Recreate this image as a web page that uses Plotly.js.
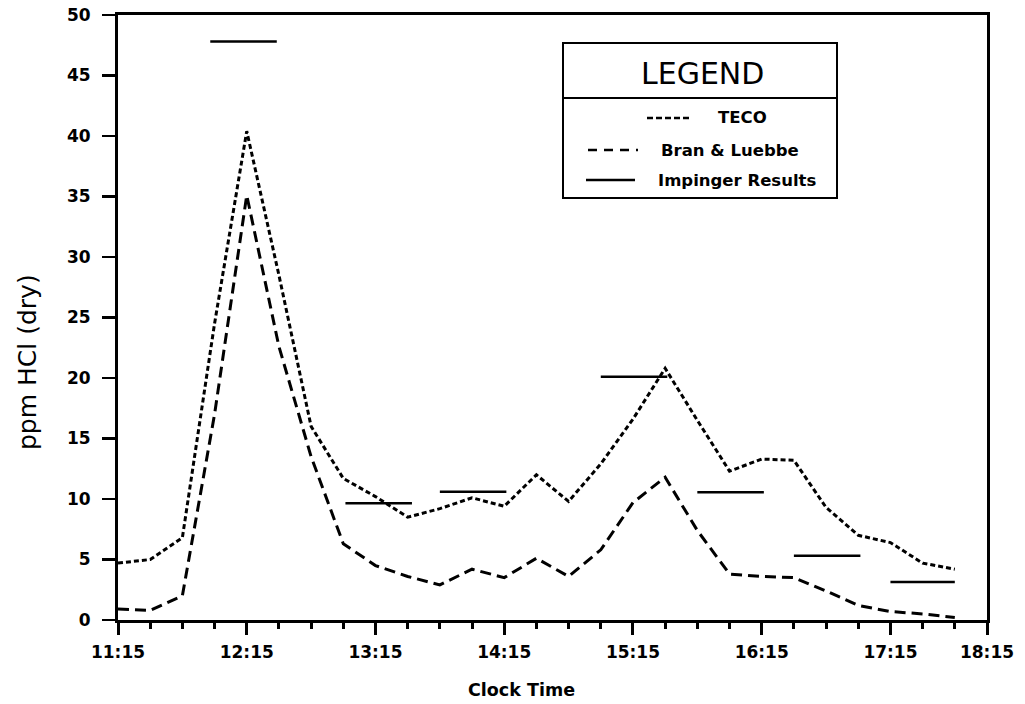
<!DOCTYPE html>
<html>
<head>
<meta charset="utf-8">
<script src="https://cdn.plot.ly/plotly-3.0.1.min.js"></script>
<style>html,body{margin:0;padding:0;background:#fff;}#chart{width:1025px;height:704px;}</style>
</head>
<body>
<div id="chart"></div>
<script>
// Minutes after 11:15, sampled every 15 minutes
const minutes = [0,15,30,45,60,75,90,105,120,135,150,165,180,195,210,225,240,255,270,285,300,315,330,345,360,375,390];
const tecoValues = [4.7,5.0,6.8,24.5,40.4,28.5,16.0,11.7,10.2,8.5,9.2,10.1,9.4,12.0,9.8,12.9,16.6,20.8,16.5,12.3,13.3,13.2,9.3,7.0,6.4,4.7,4.2];
const branValues = [0.9,0.8,2.0,17.0,35.1,22.6,13.5,6.3,4.5,3.6,2.9,4.2,3.5,5.1,3.6,5.8,9.7,11.8,7.4,3.8,3.6,3.5,2.4,1.2,0.7,0.5,0.2];
// Impinger sampling periods (minutes after 11:15) and results
const impingerStart = [43,106,150,225,270,315,360];
const impingerEnd   = [74,137,181,256,301,346,390];
const impingerValue = [47.8,9.65,10.6,20.1,10.55,5.3,3.15];
// Axis ticks
const tickMinutes = [0,60,120,180,240,300,360,405];
const tickLabels = ["11:15","12:15","13:15","14:15","15:15","16:15","17:15","18:15"];
const yTicks = [0,5,10,15,20,25,30,35,40,45,50];

const impX = [], impY = [];
for (let i = 0; i < impingerStart.length; i++) {
  impX.push(impingerStart[i], impingerEnd[i], null);
  impY.push(impingerValue[i], impingerValue[i], null);
}

const traces = [
  {x: minutes, y: tecoValues, mode: 'lines', name: 'TECO',
   line: {color: '#000', width: 3, dash: '5px,3px'}},
  {x: minutes, y: branValues, mode: 'lines', name: 'Bran & Luebbe',
   line: {color: '#000', width: 3, dash: '11px,6px'}},
  {x: impX, y: impY, mode: 'lines', name: 'Impinger Results', connectgaps: false,
   line: {color: '#000', width: 2.5}}
];

const L = 118, R = 987, T = 15, B = 620;
const px = v => (v - L) / (R - L);
const py = v => (B - v) / (B - T);

const tickFont = {family: 'DejaVu Sans', size: 17, color: '#000', weight: 'bold'};
const legFont = {family: 'DejaVu Sans', size: 16.5, color: '#000', weight: 'bold'};

const layout = {
  width: 1025, height: 704,
  margin: {l: L, r: 1025 - R, t: T, b: 704 - B, pad: 0},
  paper_bgcolor: '#fff', plot_bgcolor: '#fff',
  showlegend: false,
  xaxis: {
    range: [0, 405], tickmode: 'array', tickvals: tickMinutes, ticktext: tickLabels,
    showgrid: false, zeroline: false, showline: true, mirror: true,
    linecolor: '#000', linewidth: 3,
    ticks: 'outside', ticklen: 12, tickwidth: 3, tickcolor: '#000',
    ticklabelstandoff: 3,
    tickfont: tickFont,
    minor: {tickmode: 'linear', tick0: 0, dtick: 15, ticks: 'outside', ticklen: 6, tickwidth: 3, tickcolor: '#000', showgrid: false}
  },
  yaxis: {
    range: [0, 50], tickmode: 'array', tickvals: yTicks,
    showgrid: false, zeroline: false, showline: true, mirror: true,
    linecolor: '#000', linewidth: 3,
    ticks: 'outside', ticklen: 13, tickwidth: 2.5, tickcolor: '#000',
    ticklabelstandoff: 8,
    tickfont: tickFont
  },
  shapes: [
    {type: 'rect', xref: 'paper', yref: 'paper', x0: px(563), x1: px(837), y0: py(198), y1: py(43),
     line: {color: '#000', width: 2}, fillcolor: '#fff'},
    {type: 'line', xref: 'paper', yref: 'paper', x0: px(563), x1: px(837), y0: py(98), y1: py(98),
     line: {color: '#000', width: 2}},
    {type: 'line', xref: 'paper', yref: 'paper', x0: px(647), x1: px(690), y0: py(118), y1: py(118),
     line: {color: '#000', width: 2.5, dash: '6px,3px'}},
    {type: 'line', xref: 'paper', yref: 'paper', x0: px(588), x1: px(638), y0: py(150), y1: py(150),
     line: {color: '#000', width: 2.5, dash: '9px,7px'}},
    {type: 'line', xref: 'paper', yref: 'paper', x0: px(586), x1: px(635), y0: py(180), y1: py(180),
     line: {color: '#000', width: 2.5}}
  ],
  annotations: [
    {text: 'LEGEND', xref: 'paper', yref: 'paper', x: px(702), y: py(73), xanchor: 'center', yanchor: 'middle',
     showarrow: false, font: {family: 'DejaVu Sans', size: 30, color: '#000'}},
    {text: 'TECO', xref: 'paper', yref: 'paper', x: px(716), y: py(118), xanchor: 'left', yanchor: 'middle',
     showarrow: false, font: legFont},
    {text: 'Bran &amp; Luebbe', xref: 'paper', yref: 'paper', x: px(659), y: py(150), xanchor: 'left', yanchor: 'middle',
     showarrow: false, font: legFont},
    {text: 'Impinger Results', xref: 'paper', yref: 'paper', x: px(656), y: py(180), xanchor: 'left', yanchor: 'middle',
     showarrow: false, font: legFont},
    {text: 'Clock Time', xref: 'paper', yref: 'paper', x: px(521), y: py(690), xanchor: 'center', yanchor: 'middle',
     showarrow: false, font: {family: 'DejaVu Sans', size: 17.5, color: '#000', weight: 'bold'}},
    {text: 'ppm HCl (dry)', xref: 'paper', yref: 'paper', x: px(27), y: py(362), xanchor: 'center', yanchor: 'middle',
     textangle: -90, showarrow: false, font: {family: 'DejaVu Sans', size: 25, color: '#000'}}
  ]
};

Plotly.newPlot('chart', traces, layout, {displayModeBar: false, staticPlot: true});
</script>
</body>
</html>
